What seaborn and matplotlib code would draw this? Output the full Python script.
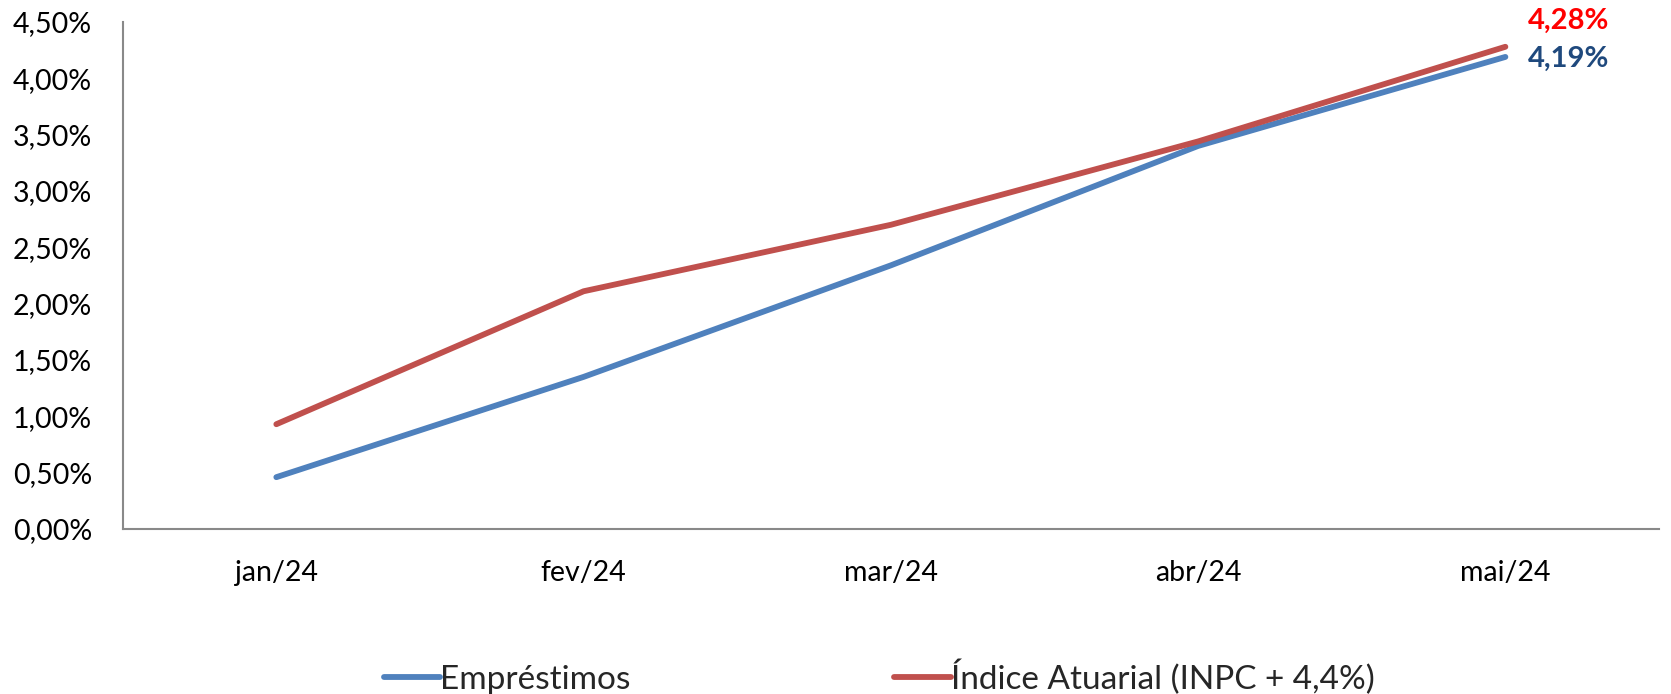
import numpy as np
import pandas as pd
import matplotlib
matplotlib.use("Agg")
import matplotlib.pyplot as plt
import seaborn as sns
from matplotlib.ticker import FuncFormatter

months = ["jan/24", "fev/24", "mar/24", "abr/24", "mai/24"]
emprestimos = [0.46, 1.35, 2.34, 3.40, 4.19]
indice = [0.93, 2.11, 2.70, 3.44, 4.28]
series_names = ["Empréstimos", "Índice Atuarial (INPC + 4,4%)"]
y_ticks = [0.0, 0.5, 1.0, 1.5, 2.0, 2.5, 3.0, 3.5, 4.0, 4.5]

df = pd.DataFrame({
    "mes": months * 2,
    "valor": emprestimos + indice,
    "serie": [series_names[0]] * len(months) + [series_names[1]] * len(months),
})

sns.set_style("white")
plt.rcParams["font.family"] = ["Lato", "DejaVu Sans"]

W, H, DPI = 1671, 694, 100
fig = plt.figure(figsize=(W / DPI, H / DPI), dpi=DPI)
ax = fig.add_axes([122.7 / W, 1 - 529 / H, (1659 - 122.7) / W, (529 - 22) / H])

palette = {series_names[0]: "#4F81BD", series_names[1]: "#C0504D"}
sns.lineplot(data=df, x="mes", y="valor", hue="serie", palette=palette,
             linewidth=4.2, ax=ax, sort=False, solid_capstyle="round",
             solid_joinstyle="round", legend=True)

ax.set_xlim(-0.5, len(months) - 0.5)
ax.set_ylim(0, 4.5)
ax.set_yticks(y_ticks)
ax.yaxis.set_major_formatter(FuncFormatter(lambda v, p: f"{v:.2f}%".replace(".", ",")))
ax.set_xticks(range(len(months)))
ax.set_xticklabels(months)
ax.set_xticks(np.arange(-0.5, len(months), 1.0), minor=True)
ax.set_xlabel("")
ax.set_ylabel("")

axis_color = "#898989"
for side in ["top", "right"]:
    ax.spines[side].set_visible(False)
for side in ["left", "bottom"]:
    ax.spines[side].set_color(axis_color)
    ax.spines[side].set_linewidth(1.5)

ax.tick_params(axis="x", which="major", length=0, pad=22, labelsize=20.5, labelcolor="black")
ax.tick_params(axis="x", which="minor", length=7, width=1.5, color=axis_color, direction="out")
ax.tick_params(axis="y", which="major", length=7, width=1.5, color=axis_color,
               direction="out", pad=15, labelsize=20.5, labelcolor="black")
ax.grid(False)

# data labels at last point
last = len(months) - 1
ax.annotate(f"{indice[-1]:.2f}%".replace(".", ","), xy=(last, indice[-1]),
            xytext=(23, 26), textcoords="offset pixels", ha="left", va="center",
            fontsize=21, fontweight="bold", color="#FF0000")
ax.annotate(f"{emprestimos[-1]:.2f}%".replace(".", ","), xy=(last, emprestimos[-1]),
            xytext=(23, -2), textcoords="offset pixels", ha="left", va="center",
            fontsize=21, fontweight="bold", color="#1F497D")

leg = ax.legend(loc="center", bbox_to_anchor=(879 / W, 1 - 677 / H),
                bbox_transform=fig.transFigure, ncol=2, frameon=False,
                fontsize=24, handlelength=1.7, handletextpad=0.0,
                columnspacing=7.9, borderaxespad=0)
for line in leg.get_lines():
    line.set_linewidth(4.2)
    line.set_solid_capstyle("round")

fig.savefig("out.png", dpi=DPI)
